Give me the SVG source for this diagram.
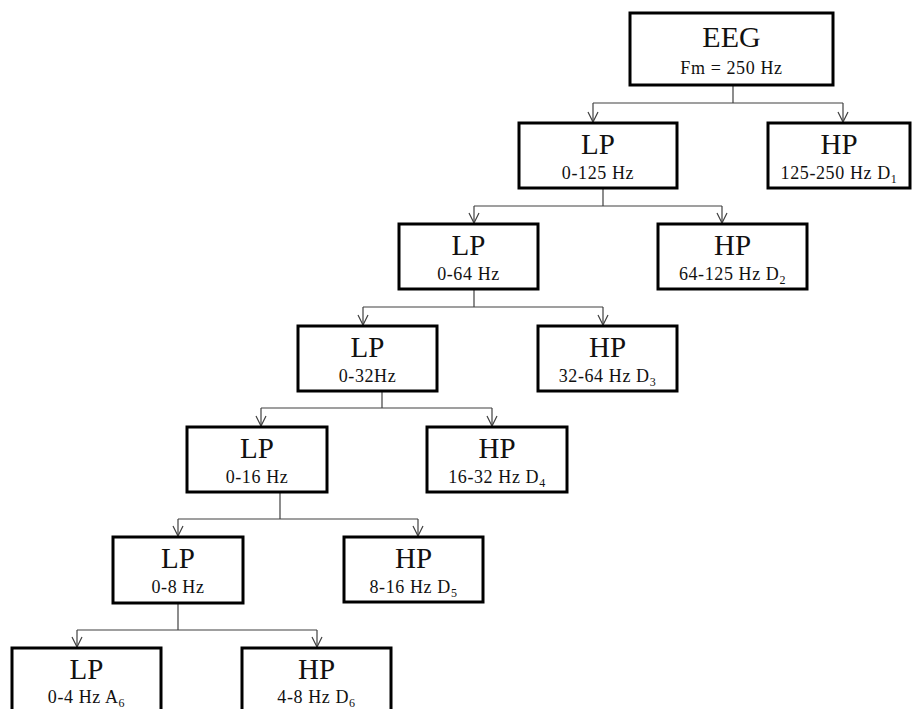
<svg xmlns="http://www.w3.org/2000/svg" width="919" height="709" viewBox="0 0 919 709">
<style>
.box{fill:#fff;stroke:#000;stroke-width:3}
.t{font-family:"Liberation Serif","Times New Roman",serif;font-size:29px;fill:#111;text-anchor:middle}
.s{font-family:"Liberation Serif","Times New Roman",serif;font-size:18px;fill:#111;text-anchor:middle;letter-spacing:0.6px}
.sub{font-size:12px}
.c{fill:none;stroke:#404040;stroke-width:1.2}
</style>
<defs>
<marker id="ah" viewBox="0 0 12 12" refX="11" refY="6" markerWidth="12" markerHeight="12" markerUnits="userSpaceOnUse" orient="auto">
<path d="M1,1 L11,6 L1,11" fill="none" stroke="#404040" stroke-width="1.2"/>
</marker>
</defs>
<rect width="919" height="709" fill="#fff"/>
<g id="connectors">
<path class="c" d="M733,85 V103"/>
<path class="c" d="M593,103 H843"/>
<path class="c" d="M593,103 V122" marker-end="url(#ah)"/>
<path class="c" d="M843,103 V122" marker-end="url(#ah)"/>
<path class="c" d="M603,188 V206"/>
<path class="c" d="M474,206 H722"/>
<path class="c" d="M474,206 V223" marker-end="url(#ah)"/>
<path class="c" d="M722,206 V223" marker-end="url(#ah)"/>
<path class="c" d="M474,289 V307"/>
<path class="c" d="M363,307 H603"/>
<path class="c" d="M363,307 V325" marker-end="url(#ah)"/>
<path class="c" d="M603,307 V325" marker-end="url(#ah)"/>
<path class="c" d="M382,391 V408"/>
<path class="c" d="M261,408 H492"/>
<path class="c" d="M261,408 V426" marker-end="url(#ah)"/>
<path class="c" d="M492,408 V426" marker-end="url(#ah)"/>
<path class="c" d="M280,492 V519"/>
<path class="c" d="M178,519 H418"/>
<path class="c" d="M178,519 V536" marker-end="url(#ah)"/>
<path class="c" d="M418,519 V536" marker-end="url(#ah)"/>
<path class="c" d="M178,603 V630"/>
<path class="c" d="M77,630 H317"/>
<path class="c" d="M77,630 V647" marker-end="url(#ah)"/>
<path class="c" d="M317,630 V647" marker-end="url(#ah)"/>
</g>
<g id="eeg">
<rect class="box" x="630" y="13" width="203" height="72"/>
<text class="t" x="731.5" y="47" style="font-size:30px">EEG</text>
<text class="s" x="731.5" y="74">Fm = 250 Hz</text>
</g>
<g id="hp1">
<rect class="box" x="768" y="123" width="142" height="65"/>
<text class="t" x="839" y="154">HP</text>
<text class="s" x="839" y="179">125-250 Hz D<tspan class="sub" dy="4">1</tspan></text>
</g>
<g id="lp1">
<rect class="box" x="519" y="123" width="158" height="65"/>
<text class="t" x="598" y="154">LP</text>
<text class="s" x="598" y="179">0-125 Hz</text>
</g>
<g id="lp2">
<rect class="box" x="399" y="224" width="139" height="65"/>
<text class="t" x="468.5" y="255">LP</text>
<text class="s" x="468.5" y="280">0-64 Hz</text>
</g>
<g id="hp2">
<rect class="box" x="658" y="224" width="149" height="65"/>
<text class="t" x="732.5" y="255">HP</text>
<text class="s" x="732.5" y="280">64-125 Hz D<tspan class="sub" dy="4">2</tspan></text>
</g>
<g id="lp3">
<rect class="box" x="298" y="326" width="139" height="65"/>
<text class="t" x="367.5" y="357">LP</text>
<text class="s" x="367.5" y="382">0-32Hz</text>
</g>
<g id="hp3">
<rect class="box" x="538" y="326" width="139" height="65"/>
<text class="t" x="607.5" y="357">HP</text>
<text class="s" x="607.5" y="382">32-64 Hz D<tspan class="sub" dy="4">3</tspan></text>
</g>
<g id="lp4">
<rect class="box" x="187" y="427" width="140" height="65"/>
<text class="t" x="257" y="458">LP</text>
<text class="s" x="257" y="483">0-16 Hz</text>
</g>
<g id="hp4">
<rect class="box" x="427" y="427" width="140" height="65"/>
<text class="t" x="497" y="458">HP</text>
<text class="s" x="497" y="483">16-32 Hz D<tspan class="sub" dy="4">4</tspan></text>
</g>
<g id="lp5">
<rect class="box" x="113" y="537" width="130" height="66"/>
<text class="t" x="178" y="568">LP</text>
<text class="s" x="178" y="593">0-8 Hz</text>
</g>
<g id="hp5">
<rect class="box" x="344" y="537" width="139" height="65"/>
<text class="t" x="413.5" y="568">HP</text>
<text class="s" x="413.5" y="593">8-16 Hz D<tspan class="sub" dy="4">5</tspan></text>
</g>
<g id="lp6">
<rect class="box" x="12" y="648" width="149" height="70"/>
<text class="t" x="86.5" y="679">LP</text>
<text class="s" x="86.5" y="703">0-4 Hz A<tspan class="sub" dy="4">6</tspan></text>
</g>
<g id="hp6">
<rect class="box" x="242" y="648" width="149" height="70"/>
<text class="t" x="316.5" y="679">HP</text>
<text class="s" x="316.5" y="703">4-8 Hz D<tspan class="sub" dy="4">6</tspan></text>
</g>
</svg>
